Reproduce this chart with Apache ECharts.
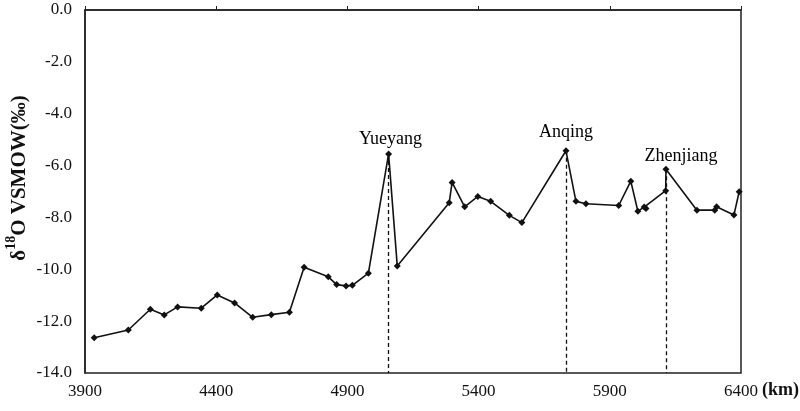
<!DOCTYPE html>
<html>
<head>
<meta charset="utf-8">
<script src="https://cdn.jsdelivr.net/npm/echarts@6/dist/echarts.min.js"></script>
<style>
  html, body { margin: 0; padding: 0; background: #fff; }
  #chart { width: 800px; height: 411px; }
</style>
</head>
<body>
<div id="chart"></div>
<script>
// Distance along the river (km) and δ18O of river water (‰, VSMOW)
const distanceKm = [3935, 4065, 4149, 4202, 4253, 4343, 4404, 4470, 4539, 4610, 4679,
  4735, 4827, 4859, 4895, 4919, 4980, 5057, 5090, 5288, 5299, 5347, 5397, 5446,
  5517, 5565, 5733, 5771, 5809, 5934, 5980, 6007, 6031, 6038, 6113, 6114, 6232,
  6300, 6307, 6373, 6393];
const delta18O = [-12.64, -12.34, -11.54, -11.76, -11.45, -11.50, -10.99, -11.30, -11.85, -11.75, -11.66,
  -9.92, -10.29, -10.59, -10.64, -10.62, -10.15, -5.55, -9.87, -7.43, -6.65, -7.59, -7.19, -7.38,
  -7.92, -8.20, -5.43, -7.38, -7.47, -7.54, -6.60, -7.76, -7.60, -7.66, -6.97, -6.14, -7.72,
  -7.72, -7.59, -7.91, -7.01];

// Named stations marked with a dashed drop line
const stationNames = ['Yueyang', 'Anqing', 'Zhenjiang'];
const stationKm = [5057, 5733, 6114];
const stationValue = [-5.55, -5.43, -6.14];

// Axis ranges
const xMin = 3900, xMax = 6400, xStep = 500;
const yMin = -14, yMax = 0, yStep = 2;

const serif = '"Liberation Serif", "DejaVu Serif", serif';
const ink = '#111';

const chart = echarts.init(document.getElementById('chart'), null, { renderer: 'canvas' });

const lineData = distanceKm.map((x, i) => [x, delta18O[i]]);
const stationData = stationKm.map((x, i) => ({ value: [x, stationValue[i]], name: stationNames[i] }));
const dropLines = stationKm.map((x, i) => [
  { coord: [x, stationValue[i]] },
  { coord: [x, yMin] }
]);
const labelOffsets = [[2, 0], [0, -4], [15, 2]];

chart.setOption({
  backgroundColor: '#fff',
  animation: false,
  grid: {
    left: 85, right: 59, top: 10, bottom: 38,
    show: true, borderColor: '#222', borderWidth: 1.5, backgroundColor: 'transparent'
  },
  graphic: [
    {
      // rotated y-axis title with superscript mass number
      type: 'text', x: 17, y: 178, rotation: Math.PI / 2,
      style: {
        text: '{d|δ}{s|18}{d|O VSMOW(‰)}',
        align: 'center', verticalAlign: 'middle',
        rich: {
          d: { fontFamily: serif, fontWeight: 'bold', fontSize: 21, fill: ink, lineHeight: 26, verticalAlign: 'bottom' },
          s: { fontFamily: serif, fontWeight: 'bold', fontSize: 14, fill: ink, lineHeight: 26, verticalAlign: 'top' }
        }
      }
    },
    {
      type: 'text', right: 1, top: 381,
      style: { text: '(km)', fontFamily: serif, fontWeight: 'bold', fontSize: 18, fill: ink }
    }
  ],
  xAxis: {
    type: 'value', min: xMin, max: xMax, interval: xStep,
    axisLine: { lineStyle: { color: '#222', width: 1.5 } },
    axisTick: { inside: true, length: 4, lineStyle: { color: '#222', width: 1 } },
    axisLabel: { fontFamily: serif, fontSize: 17, color: ink, margin: 10, formatter: v => String(v) },
    splitLine: { show: false }
  },
  yAxis: {
    type: 'value', min: yMin, max: yMax, interval: yStep,
    axisLine: { show: true, lineStyle: { color: '#222', width: 1.5 } },
    axisTick: { show: false },
    axisLabel: { fontFamily: serif, fontSize: 17, color: ink, margin: 13, formatter: v => v.toFixed(1) },
    splitLine: { show: false }
  },
  series: [
    {
      type: 'line',
      data: lineData,
      symbol: 'diamond', symbolSize: 7,
      lineStyle: { color: ink, width: 1.6 },
      itemStyle: { color: ink },
      z: 3,
      markLine: {
        silent: true, symbol: 'none',
        lineStyle: { color: ink, width: 1.3, type: [4, 3] },
        label: { show: false },
        data: dropLines
      }
    },
    {
      type: 'scatter',
      data: stationData.map((d, i) => Object.assign({}, d, {
        label: { offset: labelOffsets[i] }
      })),
      symbolSize: 0,
      itemStyle: { opacity: 1 },
      label: {
        show: true, position: 'top', distance: 6,
        formatter: p => p.name,
        fontFamily: serif, fontSize: 18, color: '#000', opacity: 1
      },
      z: 4
    }
  ]
});
</script>
</body>
</html>
